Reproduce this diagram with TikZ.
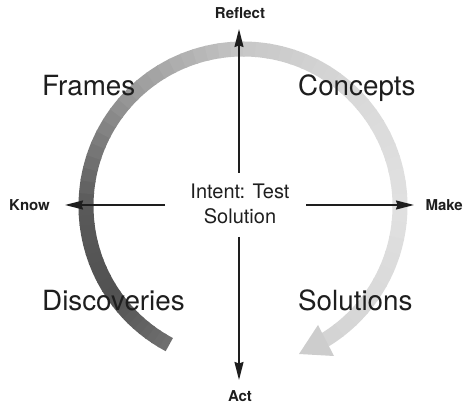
\documentclass[tikz,border=0pt]{standalone}
\usepackage{fontspec}
\setmainfont{TeX Gyre Heros}
\usetikzlibrary{arrows.meta,calc}
\definecolor{ink}{HTML}{1E1E1E}
\definecolor{headc}{HTML}{CDCDCD}
\tikzset{
  big/.style={font=\fontsize{27.8}{32}\selectfont, text=ink, inner sep=0pt},
  mid/.style={font=\fontsize{20}{24}\selectfont, text=ink, inner sep=0pt},
  axis/.style={font=\bfseries\fontsize{15}{18}\selectfont, text=ink, inner sep=0pt},
  axarrow/.style={draw=ink, line width=1.6pt, -{Stealth[length=18pt,width=9pt,inset=1.5pt]}}
}
\begin{document}
\begin{tikzpicture}[x=1pt,y=1pt]
\useasboundingbox (0,0) rectangle (474,415);
% gradient band along arc
\coordinate (C) at (243,209);
\foreach \a/\b/\ga/\gb in {242/215/0.44/0.32, 215/180/0.32/0.35, 180/135/0.35/0.60, 135/90/0.60/0.78, 90/45/0.78/0.85, 45/0/0.85/0.88, 0/-58/0.88/0.83}{
  \foreach \i in {0,...,9}{
    \pgfmathsetmacro\sa{\a+(\b-\a)*\i/10}
    \pgfmathsetmacro\ea{\a+(\b-\a)*(\i+1)/10 - 0.6*sign(\a-\b)}
    \pgfmathsetmacro\gg{\ga+(\gb-\ga)*(\i+0.5)/10}
    \definecolor{segc}{gray}{\gg}
    \draw[segc, line width=15pt, line cap=butt] ($(C)+(\sa:157)$) arc[start angle=\sa, end angle=\ea, radius=157];
  }
}
% arrowhead of band
\fill[headc] (299,61) -- (318,90) -- (334,59) -- cycle;
% labels
\node[big, anchor=base west] (frames) at (42,319) {Frames};
\node[big, anchor=base west] (concepts) at (298,319) {Concepts};
\node[big, anchor=base west] (disc) at (42,104) {Discoveries};
\node[big, anchor=base west] (sol) at (298,104) {Solutions};
\node[mid, anchor=base] (intentA) at (240,216) {Intent: Test};
\node[mid, anchor=base] (intentB) at (240,191) {Solution};
\node[axis, anchor=base] (reflect) at (240,396) {Reflect};
\node[axis, anchor=base west] (know) at (9,204) {Know};
\node[axis, anchor=base east] (make) at (463,204) {Make};
\node[axis, anchor=base] (act) at (240,13) {Act};
% axis arrows
\coordinate (upS) at (239,242);
\coordinate (upE) at (239,386);
\coordinate (dnS) at (239,178);
\coordinate (dnE) at (239,35);
\coordinate (lfS) at (165,210);
\coordinate (lfE) at (65,210);
\coordinate (rtS) at (306,210);
\coordinate (rtE) at (414,210);
\draw[axarrow] (upS) -- (upE);
\draw[axarrow] (dnS) -- (dnE);
\draw[axarrow] (lfS) -- (lfE);
\draw[axarrow] (rtS) -- (rtE);
\end{tikzpicture}
\end{document}
